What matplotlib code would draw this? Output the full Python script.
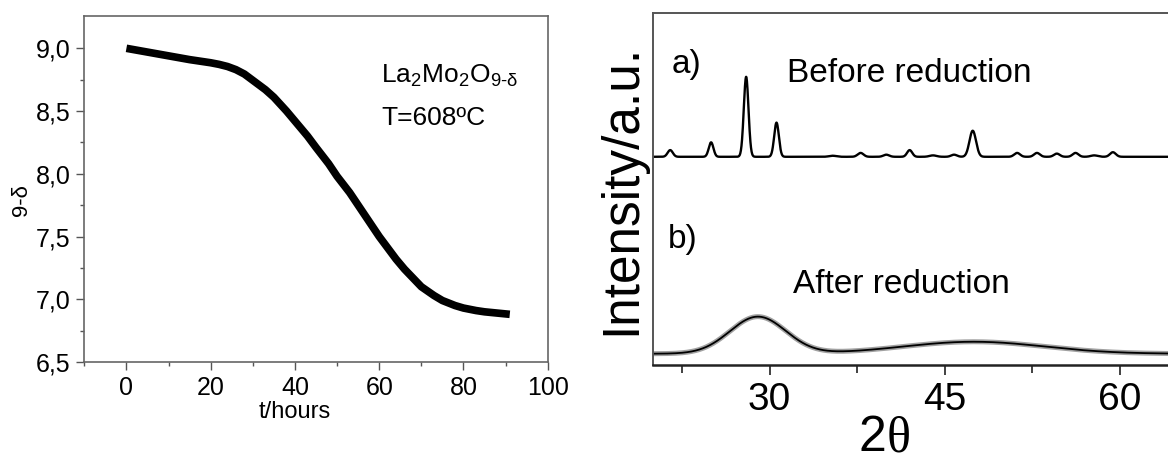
import numpy as np
import matplotlib
matplotlib.use("Agg")
import matplotlib.pyplot as plt
import matplotlib.transforms as mtransforms

plt.rcParams['font.family'] = ['Liberation Sans', 'DejaVu Sans']
plt.rcParams['mathtext.fontset'] = 'custom'
plt.rcParams['mathtext.rm'] = 'Liberation Sans'
plt.rcParams['mathtext.it'] = 'Liberation Sans'

# ---- left panel data: 9-delta vs time ----
t_hours = [0, 5, 10, 15, 20, 22, 24, 26, 28, 30, 33, 35, 38, 40, 43, 45, 48, 50, 53, 55,
           58, 60, 62, 64, 66, 68, 70, 73, 75, 78, 80, 83, 85, 88, 91]
nine_minus_delta = [9.00, 8.97, 8.94, 8.91, 8.885, 8.872, 8.855, 8.83, 8.795, 8.745, 8.67,
                    8.61, 8.50, 8.42, 8.30, 8.21, 8.08, 7.98, 7.85, 7.75, 7.60, 7.50, 7.41,
                    7.32, 7.24, 7.17, 7.10, 7.03, 6.99, 6.95, 6.93, 6.91, 6.90, 6.89, 6.88]

# ---- right panel data: XRD peaks (2theta, height a.u., width) ----
before_baseline = 59.1
before_pos = [21.5, 25.0, 28.0, 30.6, 35.4, 37.8, 40.0, 42.0, 44.0, 45.8, 47.4,
              51.2, 52.9, 54.6, 56.2, 57.8, 59.4]
before_height = [1.9, 4.1, 22.7, 9.7, 0.3, 1.1, 0.6, 1.9, 0.4, 0.6, 7.4,
                 1.1, 1.1, 0.9, 1.1, 0.4, 1.3]
before_sigma = [0.22, 0.2, 0.2, 0.2, 0.3, 0.25, 0.25, 0.22, 0.3, 0.25, 0.28,
                0.25, 0.25, 0.25, 0.25, 0.3, 0.25]

after_baseline = 3.2
after_pos = [29.0, 47.5]
after_height = [10.5, 3.4]
after_sigma = [2.4, 6.0]

xticks_right = [30, 45, 60]

W, H = 1168, 463
fig = plt.figure(figsize=(W / 100, H / 100), dpi=100)

# ---------------- left axes ----------------
ax1 = fig.add_axes([84.3 / W, (H - 362) / H, 463.4 / W, (362 - 15.7) / H])
ax1.plot(t_hours, nine_minus_delta, color='black', lw=5.5, solid_capstyle='butt',
         solid_joinstyle='round')
ax1.set_xlim(-10, 100)
ax1.set_ylim(6.5, 9.26)
ax1.set_xticks([0, 20, 40, 60, 80, 100])
ax1.set_xticks([-10, 10, 30, 50, 70, 90], minor=True)
ax1.set_yticks([6.5, 7.0, 7.5, 8.0, 8.5, 9.0])
ax1.set_yticks([6.75, 7.25, 7.75, 8.25, 8.75], minor=True)
ax1.set_yticklabels(['6,5', '7,0', '7,5', '8,0', '8,5', '9,0'])
ax1.tick_params(axis='both', which='major', direction='out', length=6, width=1.0,
                color='#555555', labelsize=18, pad=4)
ax1.tick_params(axis='both', which='minor', direction='out', length=3, width=1.0,
                color='#555555')
ax1.tick_params(top=False, right=False)
for s in ax1.spines.values():
    s.set_color('#666666')
    s.set_linewidth(1.2)

blend = mtransforms.blended_transform_factory(ax1.transData, fig.transFigure)
ax1.text(40, (H - 418) / H, 't/hours', transform=blend,
         fontsize=17, ha='center', va='baseline')

fig.text(27 / W, (H - 200) / H, '9-δ', rotation=90, rotation_mode='anchor',
         ha='center', va='baseline', fontsize=16)

ax1.text(381 / W, (H - 83) / H, r'La$_2$Mo$_2$O$_{9\text{-}\delta}$',
         transform=fig.transFigure, fontsize=19, ha='left', va='baseline')
ax1.text(381 / W, (H - 125) / H, 'T=608ºC', transform=fig.transFigure,
         fontsize=19, ha='left', va='baseline')

# ---------------- right axes ----------------
ax2 = fig.add_axes([652.7 / W, (H - 365) / H, 0.5, (365 - 12.7) / H])
x = np.linspace(20, 70, 3001)
before = np.full_like(x, before_baseline)
for p, h, s in zip(before_pos, before_height, before_sigma):
    before += h * np.exp(-0.5 * ((x - p) / s) ** 2)
after = np.full_like(x, after_baseline)
for p, h, s in zip(after_pos, after_height, after_sigma):
    after += h * np.exp(-0.5 * ((x - p) / s) ** 2)

ax2.plot(x, before, color='black', lw=1.7)
ax2.plot(x, after, color='#555555', lw=3.6, alpha=0.55)
ax2.plot(x, after, color='black', lw=1.3)
ax2.set_xlim(20, 70)
ax2.set_ylim(0, 100)
ax2.set_yticks([])
ax2.set_xticks(xticks_right)
ax2.set_xticks([22.5, 37.5, 52.5, 67.5], minor=True)
ax2.tick_params(axis='x', which='major', direction='out', length=7, width=1.3,
                color='#333333', labelsize=28, pad=5)
ax2.tick_params(axis='x', which='minor', direction='out', length=6, width=1.3,
                color='#333333')
for name, s in ax2.spines.items():
    s.set_color('#555555')
    s.set_linewidth(1.4)
ax2.spines['bottom'].set_color('#222222')
ax2.spines['bottom'].set_linewidth(1.8)

fig.text(635 / W, (H - 189) / H, 'Intensity/a.u.', rotation=90, rotation_mode='anchor',
         ha='center', va='baseline', fontsize=37)

fig.text(672 / W, (H - 73) / H, 'a)', fontsize=24, ha='left', va='baseline')
fig.text(787 / W, (H - 82) / H, 'Before reduction', fontsize=24, ha='left', va='baseline')
fig.text(668 / W, (H - 248) / H, 'b)', fontsize=24, ha='left', va='baseline')
fig.text(793 / W, (H - 293) / H, 'After reduction', fontsize=24, ha='left', va='baseline')

fig.text(886 / W, (H - 451) / H, '2', fontsize=36, ha='right', va='baseline')
fig.text(887 / W, (H - 451) / H, 'θ', fontsize=36, ha='left', va='baseline',
         family=['Liberation Serif', 'DejaVu Serif'])

fig.savefig('out.png', dpi=100)
